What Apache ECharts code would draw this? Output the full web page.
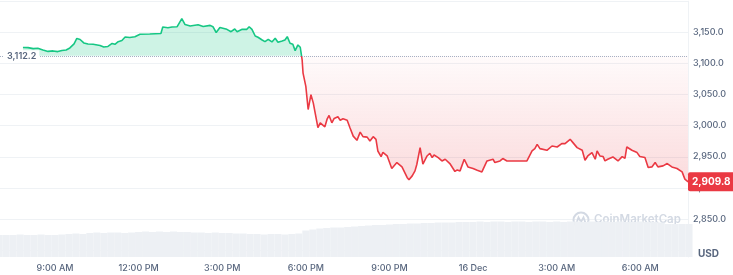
<!DOCTYPE html>
<html><head><meta charset="utf-8">
<script src="https://cdn.jsdelivr.net/npm/echarts@6/dist/echarts.min.js"></script>
<style>html,body{margin:0;padding:0;background:#fff}#c{width:733px;height:275px}</style>
</head><body><div id="c"></div>
<script>
// ---- data ----
const times = ['07:51','08:02','08:13','08:23','08:34','08:45','08:56','09:06','09:15','09:24','09:32','09:41','09:47','09:54','10:02','10:11','10:22','10:37','10:45','10:54','11:03','11:09','11:16','11:24','11:31','11:41','11:52','12:03','12:24','12:48','12:52','13:03','13:12','13:23','13:29','13:33','13:40','13:51','14:08','14:19','14:34','14:40','14:47','14:55','15:10','15:19','15:27','15:32','15:43','15:53','15:58','16:04','16:11','16:17','16:26','16:32','16:39','16:47','16:54','17:00','17:09','17:15','17:20','17:26','17:32','17:37','17:43','17:48','17:52','17:54','18:00','18:05','18:11','18:16','18:26','18:31','18:35','18:41','18:46','18:50','18:56','19:01','19:09','19:14','19:20','19:29','19:35','19:42','19:50','19:57','20:03','20:12','20:18','20:25','20:31','20:35','20:42','20:46','20:55','21:05','21:16','21:27','21:31','21:38','21:42','21:49','21:55','21:59','22:06','22:12','22:21','22:27','22:32','22:36','22:45','22:53','23:00','23:10','23:21','23:26','23:32','23:41','23:49','00:00','00:09','00:19','00:30','00:34','00:43','00:47','00:58','01:04','01:13','01:24','01:26','01:35','01:56','02:07','02:13','02:18','02:24','02:28','02:39','02:50','03:01','03:11','03:18','03:29','03:35','03:44','03:55','04:01','04:07','04:16','04:23','04:27','04:33','04:40','04:44','04:50','05:01','05:12','05:21','05:27','05:31','05:42','05:53','05:59','06:10','06:17','06:25','06:32','06:38','06:49','06:58','07:08','07:19','07:30','07:36','07:43'];
const prices = [3125.7,3125.4,3123.8,3124.4,3121.7,3119.3,3120.1,3119.0,3120.9,3121.7,3124.9,3131.3,3140.1,3138.5,3132.9,3131.3,3130.8,3128.9,3126.5,3127.3,3132.1,3130.8,3135.0,3136.9,3142.5,3141.7,3143.0,3146.8,3147.3,3148.1,3158.5,3157.3,3158.5,3159.0,3166.9,3172.0,3162.5,3160.1,3162.1,3159.3,3161.2,3159.0,3149.7,3157.7,3154.8,3151.0,3155.3,3151.0,3154.8,3154.8,3159.0,3154.8,3144.1,3142.0,3137.7,3135.0,3138.8,3134.5,3140.4,3134.0,3136.1,3137.7,3143.0,3132.4,3130.8,3120.6,3129.7,3126.0,3105.8,3084.5,3063.1,3025.9,3049.8,3036.6,2996.7,3004.6,3007.2,2998.2,3011.0,3016.3,3004.6,3011.5,3014.2,3008.8,3011.0,3008.8,2996.7,2983.2,2976.4,2989.6,2982.3,2981.6,2975.2,2982.3,2978.0,2959.3,2950.3,2957.2,2951.6,2931.2,2940.7,2933.7,2931.2,2916.8,2913.0,2919.3,2927.3,2938.0,2964.7,2938.0,2951.3,2955.6,2948.7,2952.9,2948.7,2943.3,2946.0,2939.1,2926.4,2928.9,2927.3,2946.0,2933.7,2931.2,2928.4,2925.7,2943.3,2940.7,2946.0,2940.7,2943.3,2947.1,2943.3,2943.3,2940.7,2943.3,2943.3,2959.3,2963.1,2970.0,2963.1,2960.4,2960.4,2967.3,2965.7,2971.1,2971.1,2978.0,2972.7,2964.7,2960.4,2944.4,2951.3,2956.7,2946.0,2959.3,2951.3,2950.3,2943.3,2946.0,2949.7,2943.3,2950.3,2947.6,2965.7,2960.4,2956.7,2950.3,2948.7,2932.8,2933.7,2940.7,2933.7,2935.3,2939.1,2933.7,2931.2,2925.7,2914.1,2909.8];
const baseline = 3112.2;
const volumeStartHour = 7;      // 07:00, Dec 15
const volumeStepHours = 0.25;   // 15-minute bars
const volumes = [22,22,22,22.5,22,22,22.5,22,22,22.5,
  23,23.5,23,
  24,24.5,24,24.5,24.5,24,24.5,
  25,25.5,25,25.5,25,25.5,25,25,24.5,
  24.5,24,24.5,24,24,23.5,23.5,
  23,23,22.5,23,23,22.5,23,23.5,
  26.5,27.5,28.5,29,29.5,29.5,30,30.5,31,31.5,32,32,32.5,33,33,33.5,33.5,34,34,
  34.5,34.5,34.5,35,35,
  35,35.5,35,35.5,35.5,35,35.5,35.5,35,35.5,35.5,35,35.5,35,35.5,35.5,35,35.5,35,35.5,35,35.5,35,35,35.5,35,35,34.5,
  33,33,33,33];
const xTickHours = [9,12,15,18,21,24,27,30];
const xTickLabels = ['9:00 AM','12:00 PM','3:00 PM','6:00 PM','9:00 PM','16 Dec','3:00 AM','6:00 AM'];
const xRange = [7.0266, 31.712];   // visible window, hours from Dec 15 00:00
const yRange = [2800, 3200];
const yStep = 50;

// ---- build ----
function toHours(list){
  let day = 0, prev = -1;
  return list.map(s => {
    const [h, m] = s.split(':').map(Number);
    let v = h + m / 60 + day * 24;
    if (v < prev) { day++; v += 24; }
    prev = v; return v;
  });
}
const hrs = toHours(times);
const pts = hrs.map((t, i) => [t, prices[i]]);
const upPts = pts.map(([t, v]) => [t, Math.max(v, baseline)]);
const dnPts = pts.map(([t, v]) => [t, Math.min(v, baseline)]);
const volPts = volumes.map((v, i) => [volumeStartHour + i * volumeStepHours, v]);
const last = prices[prices.length - 1];
const fmt = v => v.toLocaleString('en-US', {minimumFractionDigits: 1, maximumFractionDigits: 1});
const FONT = 'Inter, "Noto Sans", sans-serif';
const GRAY = '#58667e';
const LINE = '#eff2f5';
const GREEN = '#16c784', RED = '#ea3943';

const chart = echarts.init(document.getElementById('c'));
const option = {
  animation: false,
  grid: [
    {left: 0, right: 45, top: 1.2, bottom: 24.9},
    {left: 0, right: 45, top: 197, bottom: 18}
  ],
  xAxis: [
    {type: 'value', gridIndex: 0, min: xRange[0], max: xRange[1],
     axisLine: {show: false}, axisTick: {show: false}, axisLabel: {show: false}, splitLine: {show: false}},
    {type: 'value', gridIndex: 1, min: xRange[0], max: xRange[1],
     axisLine: {show: false}, axisTick: {show: false}, splitLine: {show: false},
     axisLabel: {customValues: xTickHours, margin: 7, color: GRAY, fontFamily: FONT, fontSize: 9, fontWeight: 500,
       formatter: v => { const i = xTickHours.indexOf(v); return i >= 0 ? xTickLabels[i] : ''; }}}
  ],
  yAxis: [
    {type: 'value', gridIndex: 0, position: 'right', min: yRange[0], max: yRange[1], interval: yStep,
     axisLine: {show: true, lineStyle: {color: LINE}}, axisTick: {show: false},
     splitLine: {show: true, lineStyle: {color: LINE, width: 1}},
     axisLabel: {margin: 5, color: GRAY, fontFamily: FONT, fontSize: 9, fontWeight: 500,
       formatter: v => (v <= yRange[0] || v >= yRange[1]) ? '' : fmt(v)}},
    {type: 'value', gridIndex: 1, position: 'right', min: 0, max: 60,
     axisLine: {show: true, lineStyle: {color: LINE}}, axisTick: {show: false},
     axisLabel: {show: false}, splitLine: {show: false}}
  ],
  series: [
    {type: 'line', xAxisIndex: 0, yAxisIndex: 0, data: upPts, showSymbol: false, silent: true,
     lineStyle: {width: 0}, areaStyle: {origin: baseline, color: 'rgba(22,199,132,0.3)'},
     markLine: {silent: true, symbol: ['none', 'none'],
       lineStyle: {type: 'dotted', color: '#a6b0c3', width: 1},
       label: {position: 'insideStart', distance: 4, formatter: fmt(baseline), color: GRAY,
         fontFamily: FONT, fontSize: 9, fontWeight: 600, backgroundColor: '#fff', padding: [1, 3]},
       data: [{yAxis: baseline}]}},
    {type: 'line', xAxisIndex: 0, yAxisIndex: 0, data: dnPts, showSymbol: false, silent: true,
     lineStyle: {width: 0},
     areaStyle: {origin: baseline, color: new echarts.graphic.LinearGradient(0, 0, 0, 1, [
       {offset: 0, color: 'rgba(234,57,67,0.03)'}, {offset: 1, color: 'rgba(234,57,67,0.26)'}])}},
    {type: 'line', xAxisIndex: 0, yAxisIndex: 0, data: pts, showSymbol: false, silent: true,
     lineStyle: {width: 1.6, color: RED}, z: 4,
     markLine: {silent: true, symbol: ['none', 'none'], z: 10,
       lineStyle: {color: 'rgba(0,0,0,0)', width: 0},
       label: {show: true, position: 'end', distance: 0, formatter: fmt(last), color: '#fff', fontFamily: FONT,
         fontSize: 10, fontWeight: 700, backgroundColor: RED, padding: [4, 4, 5, 4], borderRadius: 2},
       data: [{yAxis: last}]}},
    {type: 'bar', xAxisIndex: 1, yAxisIndex: 1, data: volPts, barWidth: 7, silent: true,
     itemStyle: {color: '#edf0f4'}}
  ],
  graphic: [
    {type: 'circle', shape: {cx: 581, cy: 220, r: 7.5}, style: {fill: 'none', stroke: '#d3d9e3', lineWidth: 2}, z: 1},
    {type: 'polyline', shape: {points: [[576.5, 223], [578.5, 217.5], [581, 222], [583.5, 217.5], [585.5, 223]]},
     style: {fill: 'none', stroke: '#d3d9e3', lineWidth: 1.8}, z: 1},
    {type: 'text', x: 594, y: 220, style: {text: 'CoinMarketCap', fill: '#d3d9e3', font: '600 11.5px Inter',
      verticalAlign: 'middle'}, z: 1},
    {type: 'text', x: 698, y: 254, style: {text: 'USD', fill: GRAY, font: '700 10px Inter', verticalAlign: 'middle'}}
  ]
};
chart.setOption(option);
// split the price line colour at the baseline (green above, red below)
const yb = chart.convertToPixel({yAxisIndex: 0}, baseline);
const H = chart.getHeight();
const f = yb / H;
chart.setOption({series: [{}, {}, {lineStyle: {color: new echarts.graphic.LinearGradient(0, 0, 0, H, [
  {offset: 0, color: GREEN}, {offset: f, color: GREEN}, {offset: f, color: RED}, {offset: 1, color: RED}], true)}}]});
</script></body></html>
